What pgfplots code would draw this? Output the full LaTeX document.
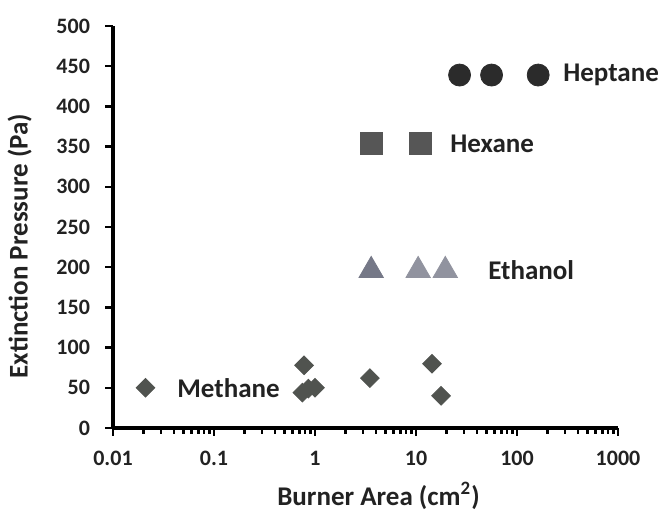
\documentclass[border=0pt]{standalone}
\usepackage{pgfplots}
\pgfplotsset{compat=1.18}
\usepackage{fontspec}
\setmainfont{Carlito}
\definecolor{txt}{HTML}{222222}
\definecolor{dia}{HTML}{50534F}
\definecolor{tri}{HTML}{757887}
\definecolor{sq}{HTML}{565656}
\definecolor{circ}{HTML}{2B2B2B}
\begin{document}
\begin{tikzpicture}
\useasboundingbox (-56.5pt,-42pt) rectangle (274.5pt,214pt);
\begin{axis}[
  scale only axis, width=252.5pt, height=201pt,
  xmode=log, xmin=0.01, xmax=1000, ymin=0, ymax=500,
  ytick={0,50,...,500},
  xtick={0.01,0.1,1,10,100,1000},
  xticklabels={0.01,0.1,1,10,100,1000},
  axis x line*=bottom, axis y line*=left,
  axis line style={line width=2pt, -},
  tick align=outside,
  major tick length=4pt, minor tick length=3pt,
  tick style={black, line width=1.2pt},
  font=\fontsize{11}{12}\selectfont\bfseries\color{txt},
  /pgf/number format/assume math mode=true,
  yticklabel style={xshift=-4pt},
  xticklabel style={yshift=-4pt},
  xlabel={Burner Area (cm\textsuperscript{2})},
  ylabel={Extinction Pressure (Pa)},
  label style={font=\fontsize{13.5}{15}\selectfont\bfseries\color{txt}},
  xlabel style={yshift=-1.5pt, xshift=6.5pt},
  ylabel style={yshift=5.5pt, xshift=-9.5pt},
  clip=false,
]
\addplot[only marks, mark=square*, mark size=3.3pt, mark options={rotate=45, fill=dia, draw=dia}] coordinates {
 (0.021,50) (0.78,78) (0.75,44) (0.86,49) (1.0,50) (3.5,62) (14.4,80) (17.7,40)};
\addplot[only marks, mark=triangle*, mark size=7pt, mark options={fill=tri, draw=tri}] coordinates {
 (3.6,196)};
\addplot[only marks, mark=triangle*, mark size=7pt, mark options={fill=tri!80!white, draw=tri!80!white}] coordinates {
 (10.5,196) (19.5,196)};
\addplot[only marks, mark=square*, mark size=5.5pt, mark options={fill=sq, draw=sq}] coordinates {
 (3.6,354) (11,354)};
\addplot[only marks, mark=*, mark size=5.5pt, mark options={fill=circ, draw=circ}] coordinates {
 (27,439) (56,439) (162,439)};
\begin{scope}[every node/.style={anchor=west, inner sep=0pt, font=\fontsize{13.5}{15}\selectfont\bfseries\color{txt}}]
\node at (axis cs:285,439) {Heptane};
\node at (axis cs:21.7,354) {Hexane};
\node at (axis cs:51.6,196) {Ethanol};
\node at (axis cs:0.043,50) {Methane};
\end{scope}
\end{axis}
\end{tikzpicture}
\end{document}
